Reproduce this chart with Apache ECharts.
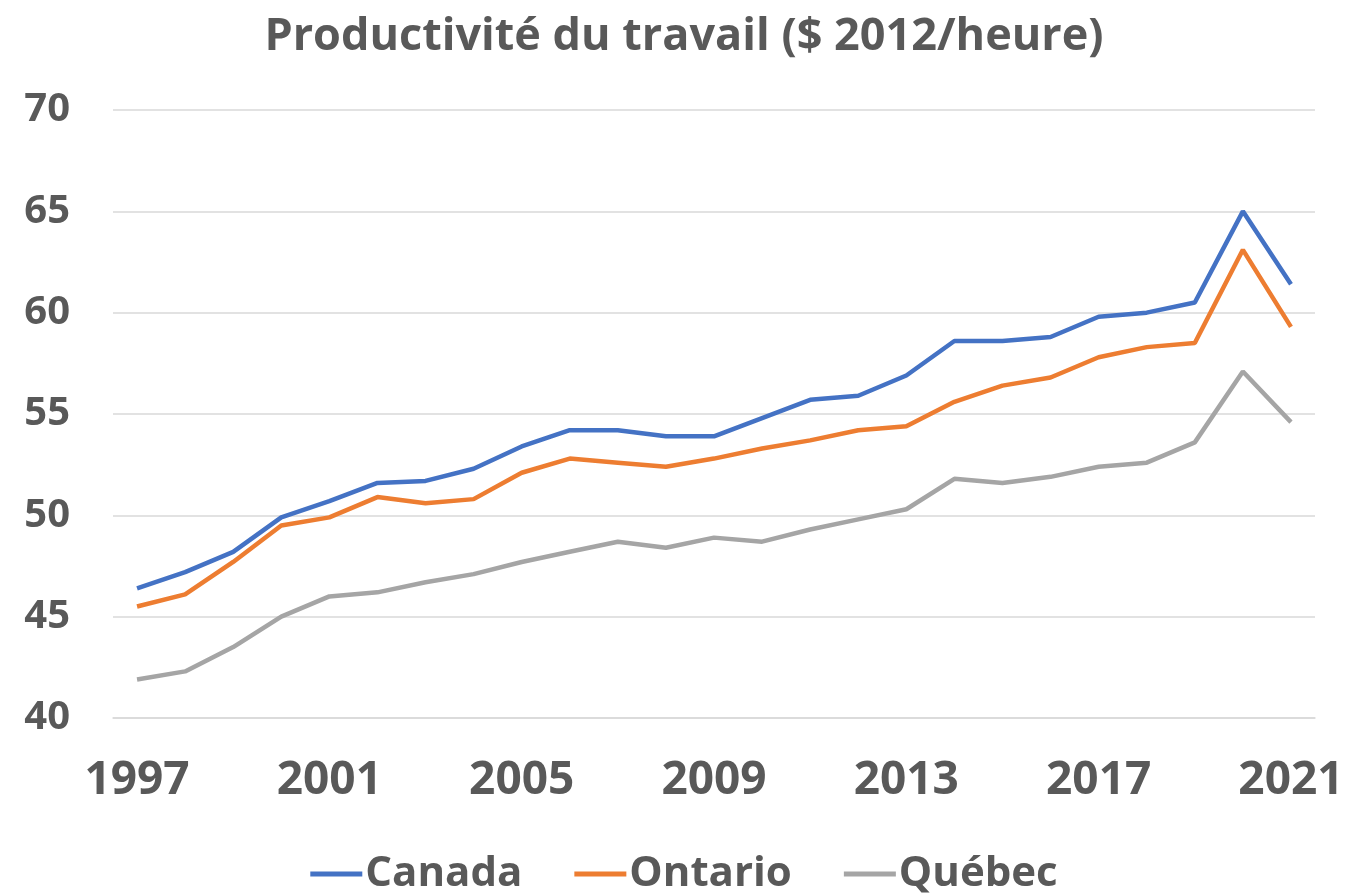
<!DOCTYPE html>
<html>
  <head>
    <meta charset="utf-8" />
    <title>Productivité du travail</title>
    <script src="https://cdn.jsdelivr.net/npm/echarts@6/dist/echarts.min.js"></script>
    <style>
      html, body { margin: 0; padding: 0; background: #fff; }
    </style>
  </head>
  <body>
    <div id="main" style="width: 1368px; height: 895px"></div>
  </body>

  <script>
    // années
    var years = [];
    for (var y = 1997; y <= 2021; y++) years.push(String(y));

    // valeurs ($ 2012/heure)
    var canada = [46.4, 47.2, 48.2, 49.9, 50.7, 51.6, 51.7, 52.3, 53.4, 54.2, 54.2, 53.9, 53.9, 54.8, 55.7, 55.9, 56.9, 58.6, 58.6, 58.8, 59.8, 60.0, 60.5, 65.0, 61.4];
    var ontario = [45.5, 46.1, 47.7, 49.5, 49.9, 50.9, 50.6, 50.8, 52.1, 52.8, 52.6, 52.4, 52.8, 53.3, 53.7, 54.2, 54.4, 55.6, 56.4, 56.8, 57.8, 58.3, 58.5, 63.1, 59.3];
    var quebec = [41.9, 42.3, 43.5, 45.0, 46.0, 46.2, 46.7, 47.1, 47.7, 48.2, 48.7, 48.4, 48.9, 48.7, 49.3, 49.8, 50.3, 51.8, 51.6, 51.9, 52.4, 52.6, 53.6, 57.1, 54.6];

    var textColor = "#595959";
    var fontFam = "'Open Sans', 'Noto Sans', sans-serif";

    var myChart = echarts.init(document.getElementById("main"));

    var option = {
      backgroundColor: "#fff",
      animation: false,
      title: {
        text: "Productivité du travail ($ 2012/heure)",
        left: "center",
        top: 10,
        textStyle: {
          color: textColor,
          fontFamily: fontFam,
          fontWeight: "bold",
          fontSize: 45,
        },
      },
      legend: {
        top: 848,
        left: "center",
        icon: "rect",
        itemWidth: 52,
        itemHeight: 5,
        itemGap: 52,
        data: ["Canada", "Ontario", "Québec"],
        textStyle: {
          color: textColor,
          fontFamily: fontFam,
          fontWeight: "bold",
          fontSize: 42,
          padding: [0, 0, 0, -2],
        },
      },
      grid: {
        left: 113,
        right: 53,
        top: 110,
        bottom: 177,
        containLabel: false,
      },
      xAxis: {
        type: "category",
        data: years,
        boundaryGap: true,
        axisLine: { show: true, lineStyle: { color: "#D9D9D9", width: 1.5 } },
        axisTick: { show: false },
        axisLabel: {
          interval: 3,
          color: textColor,
          fontFamily: fontFam,
          fontWeight: "bold",
          fontSize: 46,
          margin: 40,
        },
      },
      yAxis: {
        type: "value",
        min: 40,
        max: 70,
        interval: 5,
        axisLine: { show: false },
        axisTick: { show: false },
        splitLine: { lineStyle: { color: "#D9D9D9", width: 1.5 } },
        axisLabel: {
          color: textColor,
          fontFamily: fontFam,
          fontWeight: "bold",
          fontSize: 40,
          margin: 43,
        },
      },
      series: [
        {
          name: "Canada",
          type: "line",
          data: canada,
          symbol: "none",
          lineStyle: { color: "#4472C4", width: 4.5 },
          itemStyle: { color: "#4472C4" },
        },
        {
          name: "Ontario",
          type: "line",
          data: ontario,
          symbol: "none",
          lineStyle: { color: "#ED7D31", width: 4.5 },
          itemStyle: { color: "#ED7D31" },
        },
        {
          name: "Québec",
          type: "line",
          data: quebec,
          symbol: "none",
          lineStyle: { color: "#A5A5A5", width: 4.5 },
          itemStyle: { color: "#A5A5A5" },
        },
      ],
    };

    myChart.setOption(option);
  </script>
</html>
